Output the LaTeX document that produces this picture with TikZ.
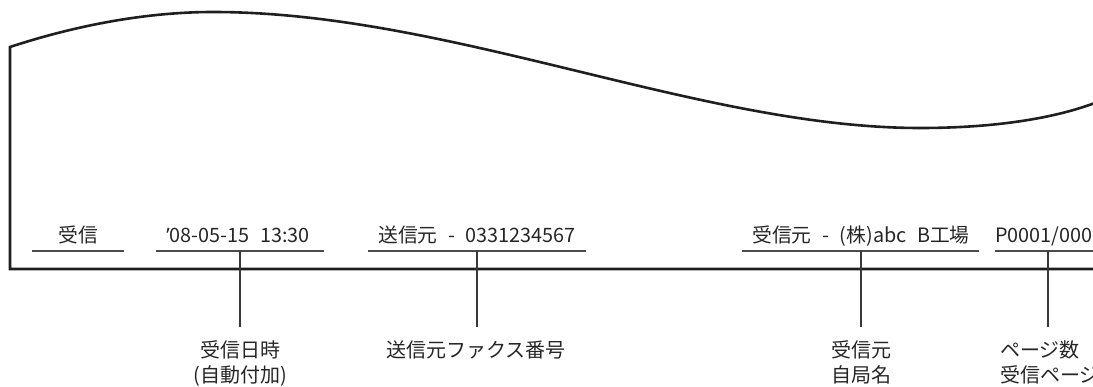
\documentclass[tikz,border=0pt]{standalone}
\usepackage{fontspec}
\setmainfont{Noto Sans CJK JP}[WordSpace=2.4]
\newfontfamily\latinq{Noto Sans}
\begin{document}
\begin{tikzpicture}[x=1pt,y=-1pt,
  outline/.style={line width=2.6pt, draw=black!88, line join=miter},
  uline/.style={line width=1.2pt, draw=black!70},
  conn/.style={line width=1.2pt, draw=black!78},
  field/.style={anchor=base, inner sep=0pt, font=\fontsize{19.8}{24}\selectfont, text=black!85},
  lab/.style={anchor=base, inner sep=0pt, font=\fontsize{20}{24}\selectfont, text=black!85}]
\useasboundingbox (0,0) rectangle (1093,387);
% paper outline
\draw[outline] (1100,269) -- (10,269) -- (10,47)
  .. controls (80,24) and (150,12) .. (213,12)
  .. controls (450,12) and (700,128) .. (920,128)
  .. controls (1000,128) and (1060,117) .. (1100,101);
% header fields
\node[field] (f1) at (78,243) {受信};
\node[field] (f2) at (238,243) {{\latinq ’}08-05-15 13:30};
\node[field] (f3) at (477,243) {送信元 - 0331234567};
\node[field] (f4) at (861,243) {受信元 - (株)abc B工場};
\node[field, anchor=base west] (f5) at (995,243) {P0001/000};
% underlines
\coordinate (u1a) at (32,251);  \coordinate (u1b) at (124,251);
\coordinate (u2a) at (156,251); \coordinate (u2b) at (324,251);
\coordinate (u3a) at (368,251); \coordinate (u3b) at (586,251);
\coordinate (u4a) at (742,251); \coordinate (u4b) at (979,251);
\coordinate (u5a) at (995,251); \coordinate (u5b) at (1100,251);
\draw[uline] (u1a) -- (u1b);
\draw[uline] (u2a) -- (u2b);
\draw[uline] (u3a) -- (u3b);
\draw[uline] (u4a) -- (u4b);
\draw[uline] (u5a) -- (u5b);
% connector points
\coordinate (c2) at (240,251); \coordinate (e2) at (240,327);
\coordinate (c3) at (477,251); \coordinate (e3) at (477,327);
\coordinate (c4) at (861,251); \coordinate (e4) at (861,327);
\coordinate (c5) at (1048,251); \coordinate (e5) at (1048,327);
\draw[conn] (c2) -- (e2);
\draw[conn] (c3) -- (e3);
\draw[conn] (c4) -- (e4);
\draw[conn] (c5) -- (e5);
% labels
\node[lab] (l2a) at (240,358) {受信日時};
\node[lab] (l2b) at (240,383) {(自動付加)};
\node[lab] (l3) at (476,358) {送信元ファクス番号};
\node[lab] (l4a) at (861,358) {受信元};
\node[lab] (l4b) at (861,383) {自局名};
\node[lab, anchor=base west] (l5a) at (1000,358) {ページ数};
\node[lab, anchor=base west] (l5b) at (1000,383) {受信ページ};
\end{tikzpicture}
\end{document}
